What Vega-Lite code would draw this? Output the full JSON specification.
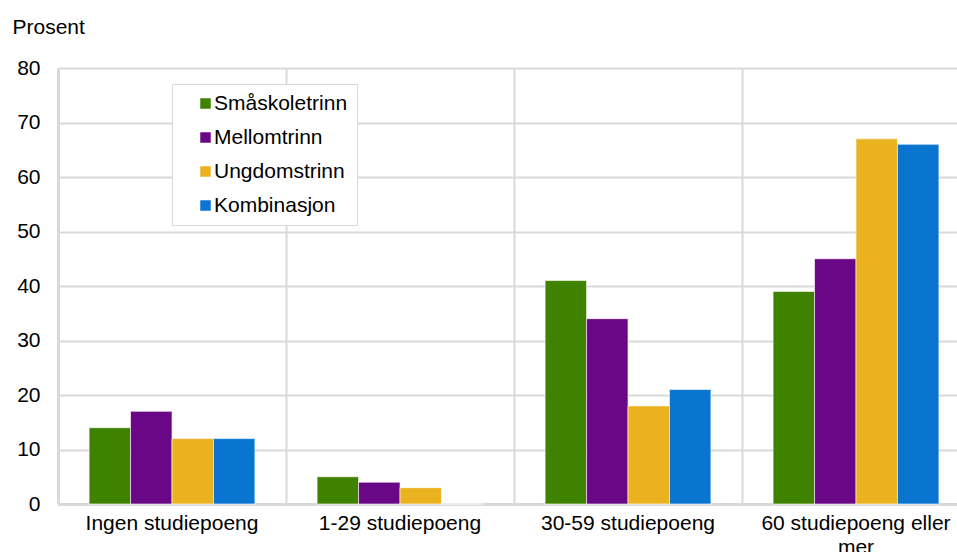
{
  "$schema": "https://vega.github.io/schema/vega-lite/v6.json",
  "autosize": {"type": "none"},
  "width": 912,
  "height": 436,
  "padding": {"left": 58, "top": 68, "right": -13, "bottom": 48},
  "background": "white",
  "config": {
    "font": "Liberation Sans",
    "view": {"stroke": null},
    "axis": {"labelFont": "Liberation Sans", "labelFontSize": 21, "labelColor": "#000000", "gridColor": "#d9d9d9", "gridWidth": 2, "domainColor": "#d9d9d9", "domainWidth": 3, "ticks": false},
    "legend": {"labelFont": "Liberation Sans", "labelFontSize": 21, "labelColor": "#000000"}
  },
  "data": {
    "values": [
      {"kategori": "Ingen studiepoeng", "trinn": "Småskoletrinn", "prosent": 14},
      {"kategori": "Ingen studiepoeng", "trinn": "Mellomtrinn", "prosent": 17},
      {"kategori": "Ingen studiepoeng", "trinn": "Ungdomstrinn", "prosent": 12},
      {"kategori": "Ingen studiepoeng", "trinn": "Kombinasjon", "prosent": 12},
      {"kategori": "1-29 studiepoeng", "trinn": "Småskoletrinn", "prosent": 5},
      {"kategori": "1-29 studiepoeng", "trinn": "Mellomtrinn", "prosent": 4},
      {"kategori": "1-29 studiepoeng", "trinn": "Ungdomstrinn", "prosent": 3},
      {"kategori": "1-29 studiepoeng", "trinn": "Kombinasjon", "prosent": 0},
      {"kategori": "30-59 studiepoeng", "trinn": "Småskoletrinn", "prosent": 41},
      {"kategori": "30-59 studiepoeng", "trinn": "Mellomtrinn", "prosent": 34},
      {"kategori": "30-59 studiepoeng", "trinn": "Ungdomstrinn", "prosent": 18},
      {"kategori": "30-59 studiepoeng", "trinn": "Kombinasjon", "prosent": 21},
      {"kategori": "60 studiepoeng eller mer", "trinn": "Småskoletrinn", "prosent": 39},
      {"kategori": "60 studiepoeng eller mer", "trinn": "Mellomtrinn", "prosent": 45},
      {"kategori": "60 studiepoeng eller mer", "trinn": "Ungdomstrinn", "prosent": 67},
      {"kategori": "60 studiepoeng eller mer", "trinn": "Kombinasjon", "prosent": 66}
    ]
  },
  "mark": {"type": "bar", "stroke": "#ffffff", "strokeWidth": 1, "strokeOpacity": 0.6},
  "encoding": {
    "x": {
      "field": "kategori", "type": "nominal", "sort": null,
      "scale": {"paddingInner": 0, "paddingOuter": 0},
      "axis": {"title": null, "labelAngle": 0, "labelPadding": 8, "grid": true, "bandPosition": 0, "labelLineHeight": 24, "labelLimit": 400,
        "labelExpr": "datum.label == '60 studiepoeng eller mer' ? ['60 studiepoeng eller', 'mer'] : datum.label"}
    },
    "xOffset": {
      "field": "trinn", "type": "nominal", "sort": ["Småskoletrinn", "Mellomtrinn", "Ungdomstrinn", "Kombinasjon"],
      "scale": {"paddingInner": 0, "paddingOuter": 0.75}
    },
    "y": {
      "field": "prosent", "type": "quantitative",
      "scale": {"domain": [0, 80], "nice": false},
      "axis": {"title": "Prosent", "titleAngle": 0, "titleAlign": "left", "titleBaseline": "middle", "titleX": -46, "titleY": -41,
        "titleFontSize": 21, "titleFontWeight": "normal", "titleColor": "#000000", "titleFont": "Liberation Sans",
        "values": [0, 10, 20, 30, 40, 50, 60, 70, 80], "labelPadding": 18, "grid": true}
    },
    "color": {
      "field": "trinn", "type": "nominal", "sort": ["Småskoletrinn", "Mellomtrinn", "Ungdomstrinn", "Kombinasjon"],
      "scale": {"domain": ["Småskoletrinn", "Mellomtrinn", "Ungdomstrinn", "Kombinasjon"], "range": ["#3f8200", "#690786", "#ebb220", "#0a75d1"]},
      "legend": {"title": null, "orient": "none", "legendX": 114, "legendY": 16, "padding": 9, "symbolOffset": 14,
        "symbolType": "square", "symbolSize": 110, "symbolStrokeWidth": 0, "labelOffset": -2, "rowPadding": 12,
        "strokeColor": "#d9d9d9", "fillColor": "#ffffff",
        "encode": {"legend": {"update": {"strokeWidth": {"value": 2}}}}}
    }
  }
}
